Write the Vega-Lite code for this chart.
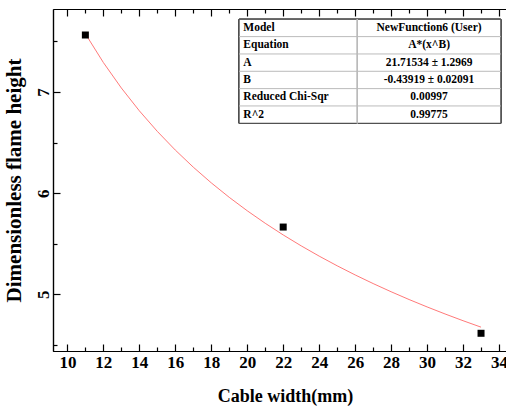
{
  "$schema": "https://vega.github.io/schema/vega-lite/v6.json",
  "autosize": "none",
  "padding": {"left": 53, "top": 9, "right": 0, "bottom": 58},
  "width": 464,
  "height": 342,
  "background": "white",
  "view": {"stroke": null},
  "config": {
    "axis": {
      "labelFont": "Liberation Serif",
      "labelFontWeight": "bold",
      "labelFontSize": 17,
      "labelColor": "black",
      "titleFont": "Liberation Serif",
      "titleFontWeight": "bold",
      "titleColor": "black",
      "domainColor": "black",
      "domainWidth": 1.2,
      "tickColor": "black",
      "tickWidth": 1.2,
      "grid": false
    }
  },
  "datasets": {
    "pts": [
      {"w": 11, "h": 7.563},
      {"w": 22, "h": 5.665},
      {"w": 33, "h": 4.615}
    ],
    "fit": [
      {"w": 11, "h": 7.5751}, {"w": 12, "h": 7.2912}, {"w": 13, "h": 7.0394},
      {"w": 14, "h": 6.8140}, {"w": 15, "h": 6.6106}, {"w": 16, "h": 6.4259},
      {"w": 17, "h": 6.2570}, {"w": 18, "h": 6.1019}, {"w": 19, "h": 5.9587},
      {"w": 20, "h": 5.8260}, {"w": 21, "h": 5.7025}, {"w": 22, "h": 5.5872},
      {"w": 23, "h": 5.4792}, {"w": 24, "h": 5.3777}, {"w": 25, "h": 5.2822},
      {"w": 26, "h": 5.1919}, {"w": 27, "h": 5.1066}, {"w": 28, "h": 5.0257},
      {"w": 29, "h": 4.9488}, {"w": 30, "h": 4.8757}, {"w": 31, "h": 4.8060},
      {"w": 32, "h": 4.7394}, {"w": 33, "h": 4.6758}
    ],
    "table": [
      {"row": 1, "param": "Model", "value": "NewFunction6 (User)"},
      {"row": 2, "param": "Equation", "value": "A*(x^B)"},
      {"row": 3, "param": "A", "value": "21.71534 ± 1.2969"},
      {"row": 4, "param": "B", "value": "-0.43919 ± 0.02091"},
      {"row": 5, "param": "Reduced Chi-Sqr", "value": "0.00997"},
      {"row": 6, "param": "R^2", "value": "0.99775"}
    ],
    "edges": [
      {"edge": 1.5}, {"edge": 2.5}, {"edge": 3.5}, {"edge": 4.5}, {"edge": 5.5}
    ]
  },
  "resolve": {"scale": {"x": "independent", "y": "independent"}},
  "layer": [
    {
      "data": {"name": "fit"},
      "mark": {"type": "line", "color": "#ff6a6a", "strokeWidth": 0.9},
      "encoding": {
        "x": {"field": "w", "type": "quantitative", "scale": {"domain": [9.2, 35], "nice": false, "zero": false},
          "axis": {"orient": "bottom", "values": [11, 13, 15, 17, 19, 21, 23, 25, 27, 29, 31, 33], "labels": false, "tickSize": -4, "title": null}},
        "y": {"field": "h", "type": "quantitative", "scale": {"domain": [4.44, 7.82], "nice": false, "zero": false},
          "axis": {"orient": "left", "values": [4.5, 5.5, 6.5, 7.5], "labels": false, "tickSize": -4, "title": null}}
      }
    },
    {
      "data": {"name": "pts"},
      "mark": {"type": "point", "shape": "square", "filled": true, "color": "black", "opacity": 1, "size": 49},
      "encoding": {
        "x": {"field": "w", "type": "quantitative", "scale": {"domain": [9.2, 35], "nice": false, "zero": false},
          "axis": {"orient": "bottom", "values": [10, 12, 14, 16, 18, 20, 22, 24, 26, 28, 30, 32, 34], "tickSize": -7, "labelPadding": 10, "labelBaseline": "top",
            "title": "Cable width(mm)", "titleFontSize": 18, "titlePadding": 17}},
        "y": {"field": "h", "type": "quantitative", "scale": {"domain": [4.44, 7.82], "nice": false, "zero": false},
          "axis": {"orient": "left", "values": [5, 6, 7], "tickSize": -7, "labelAngle": 270, "labelPadding": 8,
            "title": "Dimensionless flame height", "titleFontSize": 21, "titlePadding": 10}}
      }
    },
    {
      "data": {"name": "table"},
      "mark": {"type": "rect", "fill": "white", "stroke": "#444444", "strokeWidth": 1},
      "encoding": {
        "x": {"datum": 19.55, "type": "quantitative", "scale": {"domain": [9.2, 35], "nice": false, "zero": false},
          "axis": {"orient": "top", "values": [10, 12, 14, 16, 18, 20, 22, 24, 26, 28, 30, 32, 34], "tickSize": -7, "labels": false, "title": null}},
        "x2": {"datum": 34.1},
        "y": {"datum": 0.5, "type": "quantitative", "scale": {"domain": [-0.094, 19.64], "nice": false, "zero": false, "reverse": true}, "axis": null},
        "y2": {"datum": 6.5}
      }
    },
    {
      "data": {"name": "edges"},
      "mark": {"type": "rule", "color": "#bbbbbb", "strokeWidth": 1},
      "encoding": {
        "x": {"datum": 19.55, "type": "quantitative", "scale": {"domain": [9.2, 35], "nice": false, "zero": false},
          "axis": {"orient": "top", "values": [11, 13, 15, 17, 19, 21, 23, 25, 27, 29, 31, 33], "tickSize": -4, "labels": false, "title": null, "domain": false}},
        "x2": {"datum": 34.1},
        "y": {"field": "edge", "type": "quantitative", "scale": {"domain": [-0.094, 19.64], "nice": false, "zero": false, "reverse": true}, "axis": null}
      }
    },
    {
      "data": {"name": "edges"},
      "mark": {"type": "rule", "color": "#bbbbbb", "strokeWidth": 1},
      "encoding": {
        "x": {"datum": 26.12, "type": "quantitative", "scale": {"domain": [9.2, 35], "nice": false, "zero": false}, "axis": null},
        "y": {"datum": 0.5, "type": "quantitative", "scale": {"domain": [-0.094, 19.64], "nice": false, "zero": false, "reverse": true}, "axis": null},
        "y2": {"datum": 6.5}
      }
    },
    {
      "data": {"name": "table"},
      "mark": {"type": "text", "align": "left", "baseline": "middle", "font": "Liberation Serif", "fontWeight": "bold", "fontSize": 11.5, "color": "black"},
      "encoding": {
        "x": {"datum": 19.785, "type": "quantitative", "scale": {"domain": [9.2, 35], "nice": false, "zero": false}, "axis": null},
        "y": {"field": "row", "type": "quantitative", "scale": {"domain": [-0.094, 19.64], "nice": false, "zero": false, "reverse": true}, "axis": null},
        "text": {"field": "param"}
      }
    },
    {
      "data": {"name": "table"},
      "mark": {"type": "text", "align": "center", "baseline": "middle", "font": "Liberation Serif", "fontWeight": "bold", "fontSize": 11.5, "color": "black"},
      "encoding": {
        "x": {"datum": 30.11, "type": "quantitative", "scale": {"domain": [9.2, 35], "nice": false, "zero": false}, "axis": null},
        "y": {"field": "row", "type": "quantitative", "scale": {"domain": [-0.094, 19.64], "nice": false, "zero": false, "reverse": true}, "axis": null},
        "text": {"field": "value"}
      }
    }
  ]
}
